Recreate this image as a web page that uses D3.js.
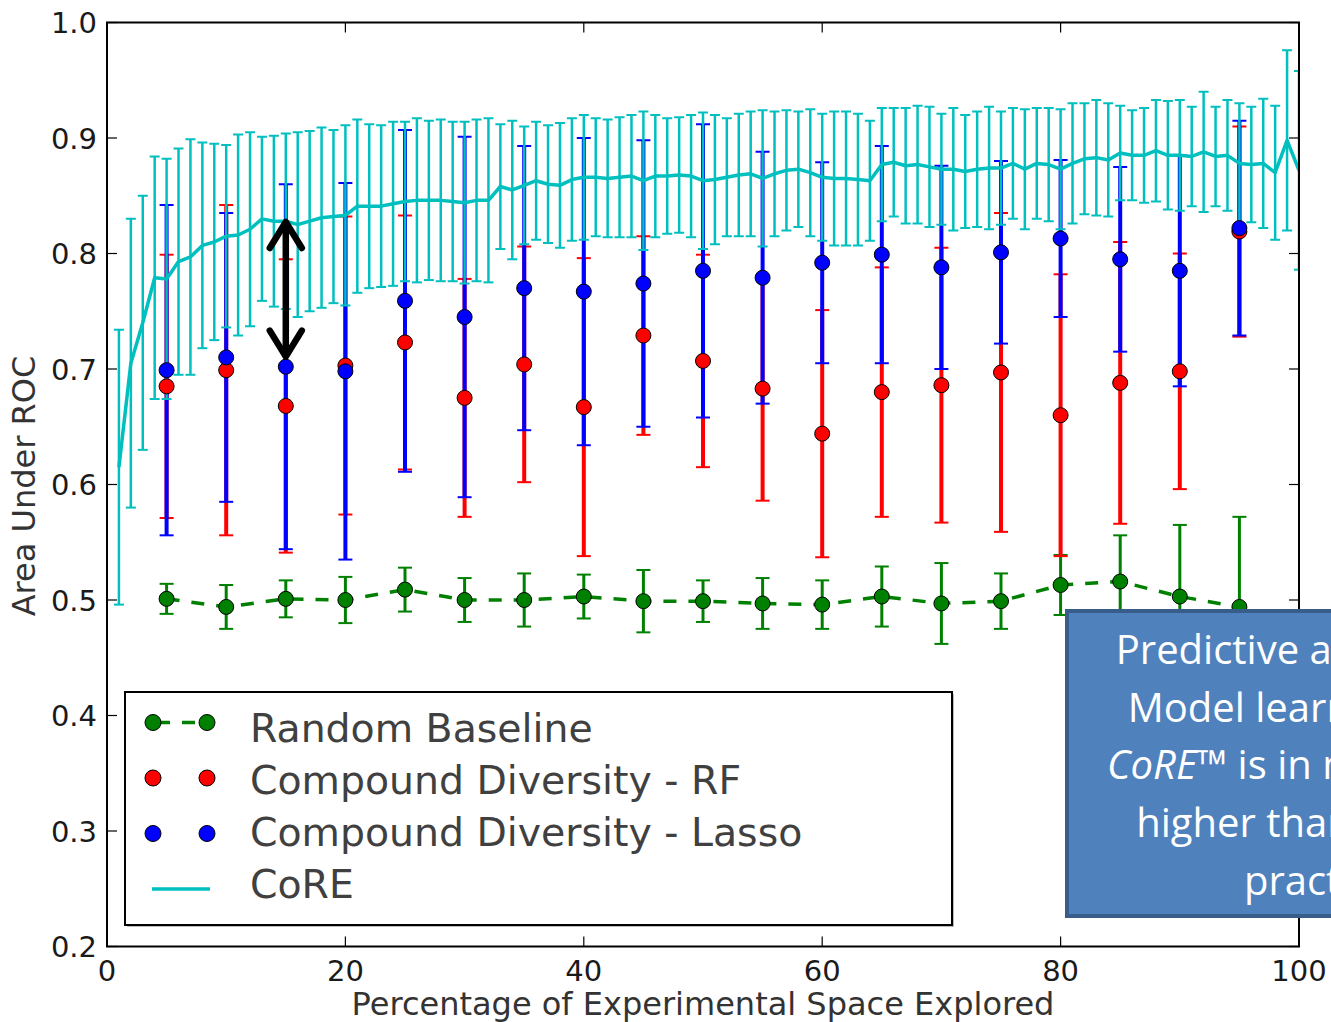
<!DOCTYPE html>
<html>
<head>
<meta charset="utf-8">
<script src="https://cdn.jsdelivr.net/npm/d3@7"></script>
<style>
  body { margin: 0; background: #ffffff; }
  svg { display: block; }
</style>
</head>
<body>
<div id="chart"></div>
<script>
// ---- data ----

// CoRE: one point per percent explored
const CORE_X = [1, 2, 3, 4, 5, 6, 7, 8, 9, 10, 11, 12, 13, 14, 15, 16, 17, 18, 19, 20,
  21, 22, 23, 24, 25, 26, 27, 28, 29, 30, 31, 32, 33, 34, 35, 36, 37, 38, 39, 40,
  41, 42, 43, 44, 45, 46, 47, 48, 49, 50, 51, 52, 53, 54, 55, 56, 57, 58, 59, 60,
  61, 62, 63, 64, 65, 66, 67, 68, 69, 70, 71, 72, 73, 74, 75, 76, 77, 78, 79, 80,
  81, 82, 83, 84, 85, 86, 87, 88, 89, 90, 91, 92, 93, 94, 95, 96, 97, 98, 99, 100];
const CORE_MEAN = [0.615, 0.705, 0.740, 0.779, 0.778, 0.793, 0.797, 0.807, 0.810, 0.815,
  0.816, 0.821, 0.830, 0.828, 0.828, 0.825, 0.828, 0.831, 0.832, 0.833,
  0.841, 0.841, 0.841, 0.843, 0.845, 0.846, 0.846, 0.846, 0.845, 0.844,
  0.846, 0.846, 0.858, 0.855, 0.859, 0.863, 0.860, 0.859, 0.864, 0.866,
  0.866, 0.865, 0.866, 0.867, 0.863, 0.867, 0.867, 0.868, 0.867, 0.863,
  0.864, 0.866, 0.868, 0.869, 0.865, 0.869, 0.872, 0.873, 0.870, 0.866,
  0.865, 0.865, 0.864, 0.863, 0.877, 0.879, 0.876, 0.877, 0.875, 0.873,
  0.873, 0.871, 0.873, 0.874, 0.874, 0.878, 0.873, 0.878, 0.877, 0.873,
  0.878, 0.882, 0.883, 0.881, 0.887, 0.885, 0.885, 0.889, 0.885, 0.885,
  0.884, 0.888, 0.884, 0.885, 0.878, 0.877, 0.878, 0.870, 0.898, 0.872];
const CORE_ERR = [0.119, 0.125, 0.110, 0.105, 0.104, 0.098, 0.102, 0.089, 0.085, 0.079,
  0.087, 0.084, 0.071, 0.074, 0.076, 0.080, 0.078, 0.078, 0.075, 0.078,
  0.075, 0.071, 0.070, 0.071, 0.069, 0.071, 0.069, 0.070, 0.069, 0.070,
  0.070, 0.071, 0.054, 0.060, 0.051, 0.051, 0.051, 0.054, 0.053, 0.054,
  0.051, 0.051, 0.052, 0.053, 0.060, 0.053, 0.050, 0.050, 0.053, 0.059,
  0.056, 0.051, 0.053, 0.054, 0.059, 0.054, 0.052, 0.050, 0.055, 0.055,
  0.058, 0.058, 0.057, 0.052, 0.049, 0.047, 0.050, 0.051, 0.052, 0.048,
  0.053, 0.049, 0.050, 0.053, 0.049, 0.048, 0.052, 0.048, 0.049, 0.052,
  0.052, 0.048, 0.050, 0.049, 0.041, 0.039, 0.041, 0.044, 0.047, 0.048,
  0.043, 0.052, 0.043, 0.048, 0.052, 0.050, 0.056, 0.058, 0.078, 0.086];

// the three other methods are sampled every 5 percent
const CD_X = [5, 10, 15, 20, 25, 30, 35, 40, 45, 50, 55, 60, 65, 70, 75, 80, 85, 90, 95];
const RANDOM_MEAN = [0.501, 0.494, 0.501, 0.500, 0.509, 0.500, 0.500, 0.503, 0.499, 0.499,
  0.497, 0.496, 0.503, 0.497, 0.499, 0.513, 0.516, 0.503, 0.494];
const RANDOM_ERR = [0.013, 0.019, 0.016, 0.020, 0.019, 0.019, 0.023, 0.019, 0.027, 0.018,
  0.022, 0.021, 0.026, 0.035, 0.024, 0.026, 0.040, 0.062, 0.078];
const RF_MEAN = [0.685, 0.699, 0.668, 0.703, 0.723, 0.675, 0.704, 0.667, 0.729, 0.707,
  0.683, 0.644, 0.680, 0.686, 0.697, 0.660, 0.688, 0.698, 0.819];
const RF_ERR = [0.114, 0.143, 0.127, 0.129, 0.110, 0.103, 0.102, 0.129, 0.086, 0.092,
  0.097, 0.107, 0.108, 0.119, 0.138, 0.122, 0.122, 0.102, 0.091];
const LASSO_MEAN = [0.699, 0.710, 0.702, 0.698, 0.759, 0.745, 0.770, 0.767, 0.774, 0.785,
  0.779, 0.792, 0.799, 0.788, 0.801, 0.813, 0.795, 0.785, 0.822];
const LASSO_ERR = [0.143, 0.125, 0.158, 0.163, 0.148, 0.156, 0.123, 0.133, 0.124, 0.127,
  0.109, 0.087, 0.094, 0.088, 0.079, 0.068, 0.080, 0.100, 0.093];

// axes
const X_TICKS = [0, 20, 40, 60, 80, 100];
const Y_TICKS = [0.2, 0.3, 0.4, 0.5, 0.6, 0.7, 0.8, 0.9, 1.0];
const X_LABEL = "Percentage of Experimental Space Explored";
const Y_LABEL = "Area Under ROC";

// legend and notes
const LEGEND_LABELS = ["Random Baseline", "Compound Diversity - RF", "Compound Diversity - Lasso", "CoRE"];
const ARROW = {x: 15, from: 0.829, to: 0.709};
const NOTE_LINES = ["Predictive accuracy of", "Model learned using", "CoRE\u2122 is in most cases", "higher than current", "practice"];

// ---- frame ----
const FRAME_WIDTH = 1331;
const FRAME_HEIGHT = 1022;
const MARGINS = {left: 107, right: 32, top: 22.5, bottom: 75.5};

const COLORS = {random: "#008000", rf: "#ff0000", lasso: "#0000ff", core: "#00bfbf"};

const FRAME = d3.select("#chart")
  .append("svg")
  .attr("width", FRAME_WIDTH)
  .attr("height", FRAME_HEIGHT);

const X_SCALE = d3.scaleLinear()
  .domain([0, 100])
  .range([MARGINS.left, FRAME_WIDTH - MARGINS.right]);

const Y_SCALE = d3.scaleLinear()
  .domain([0.2, 1.0])
  .range([FRAME_HEIGHT - MARGINS.bottom, MARGINS.top]);

FRAME.append("clipPath").attr("id", "plotclip")
  .append("rect")
  .attr("x", X_SCALE(0)).attr("y", Y_SCALE(1.0))
  .attr("width", X_SCALE(100) - X_SCALE(0))
  .attr("height", Y_SCALE(0.2) - Y_SCALE(1.0));

const PLOT = FRAME.append("g").attr("clip-path", "url(#plotclip)");

// error bars: vertical line plus two caps
function errorBars(xs, means, errs, color, width, cap) {
  const rows = xs.map((x, i) => ({x: x, m: means[i], e: errs[i]}));
  const g = PLOT.append("g").attr("stroke", color).attr("stroke-width", width);
  g.selectAll("line.bar").data(rows).enter().append("line")
    .attr("class", "bar")
    .attr("x1", d => X_SCALE(d.x)).attr("x2", d => X_SCALE(d.x))
    .attr("y1", d => Y_SCALE(d.m - d.e)).attr("y2", d => Y_SCALE(d.m + d.e));
  g.selectAll("line.lo").data(rows).enter().append("line")
    .attr("class", "lo")
    .attr("stroke-width", Math.min(width, 2))
    .attr("x1", d => X_SCALE(d.x) - cap).attr("x2", d => X_SCALE(d.x) + cap)
    .attr("y1", d => Y_SCALE(d.m - d.e)).attr("y2", d => Y_SCALE(d.m - d.e));
  g.selectAll("line.hi").data(rows).enter().append("line")
    .attr("class", "hi")
    .attr("stroke-width", Math.min(width, 2))
    .attr("x1", d => X_SCALE(d.x) - cap).attr("x2", d => X_SCALE(d.x) + cap)
    .attr("y1", d => Y_SCALE(d.m + d.e)).attr("y2", d => Y_SCALE(d.m + d.e));
}

function markers(xs, means, color, r) {
  PLOT.append("g").selectAll("circle")
    .data(xs.map((x, i) => ({x: x, m: means[i]})))
    .enter().append("circle")
    .attr("cx", d => X_SCALE(d.x))
    .attr("cy", d => Y_SCALE(d.m))
    .attr("r", r)
    .attr("fill", color)
    .attr("stroke", "#000")
    .attr("stroke-width", 1);
}

const LINE = d3.line().x(d => X_SCALE(d[0])).y(d => Y_SCALE(d[1]));

// bars first
errorBars(CD_X, RANDOM_MEAN, RANDOM_ERR, COLORS.random, 3, 7);
errorBars(CD_X, RF_MEAN, RF_ERR, COLORS.rf, 4, 7);
errorBars(CD_X, LASSO_MEAN, LASSO_ERR, COLORS.lasso, 4, 7);
errorBars(CORE_X, CORE_MEAN, CORE_ERR, COLORS.core, 2.5, 5);

// lines
PLOT.append("path")
  .datum(CD_X.map((x, i) => [x, RANDOM_MEAN[i]]))
  .attr("d", LINE)
  .attr("fill", "none")
  .attr("stroke", COLORS.random)
  .attr("stroke-width", 3.5)
  .attr("stroke-dasharray", "13,12");

PLOT.append("path")
  .datum(CORE_X.map((x, i) => [x, CORE_MEAN[i]]))
  .attr("d", LINE)
  .attr("fill", "none")
  .attr("stroke", COLORS.core)
  .attr("stroke-width", 3.5)
  .attr("stroke-linejoin", "round");

// markers
markers(CD_X, RANDOM_MEAN, COLORS.random, 7.5);
markers(CD_X, RF_MEAN, COLORS.rf, 7.5);
markers(CD_X, LASSO_MEAN, COLORS.lasso, 7.5);

// ---- axes ----
const AXES = FRAME.append("g");
AXES.append("rect")
  .attr("x", X_SCALE(0)).attr("y", Y_SCALE(1.0))
  .attr("width", X_SCALE(100) - X_SCALE(0))
  .attr("height", Y_SCALE(0.2) - Y_SCALE(1.0))
  .attr("fill", "none").attr("stroke", "#000").attr("stroke-width", 2);

const TICK_LEN = 10;
AXES.selectAll("line.xtb").data(X_TICKS).enter().append("line")
  .attr("x1", d => X_SCALE(d)).attr("x2", d => X_SCALE(d))
  .attr("y1", Y_SCALE(0.2)).attr("y2", Y_SCALE(0.2) - TICK_LEN)
  .attr("stroke", "#000").attr("stroke-width", 1.2);
AXES.selectAll("line.xtt").data(X_TICKS).enter().append("line")
  .attr("x1", d => X_SCALE(d)).attr("x2", d => X_SCALE(d))
  .attr("y1", Y_SCALE(1.0)).attr("y2", Y_SCALE(1.0) + TICK_LEN)
  .attr("stroke", "#000").attr("stroke-width", 1.2);
AXES.selectAll("line.ytl").data(Y_TICKS).enter().append("line")
  .attr("x1", X_SCALE(0)).attr("x2", X_SCALE(0) + TICK_LEN)
  .attr("y1", d => Y_SCALE(d)).attr("y2", d => Y_SCALE(d))
  .attr("stroke", "#000").attr("stroke-width", 1.2);
AXES.selectAll("line.ytr").data(Y_TICKS).enter().append("line")
  .attr("x1", X_SCALE(100)).attr("x2", X_SCALE(100) - TICK_LEN)
  .attr("y1", d => Y_SCALE(d)).attr("y2", d => Y_SCALE(d))
  .attr("stroke", "#000").attr("stroke-width", 1.2);

AXES.selectAll("text.xt").data(X_TICKS).enter().append("text")
  .attr("x", d => X_SCALE(d))
  .attr("y", Y_SCALE(0.2) + 34)
  .attr("text-anchor", "middle")
  .attr("font-family", "DejaVu Sans")
  .attr("font-size", "29px")
  .attr("fill", "#1a1a1a")
  .text(d => d);

AXES.selectAll("text.yt").data(Y_TICKS).enter().append("text")
  .attr("x", X_SCALE(0) - 10)
  .attr("y", d => Y_SCALE(d) + 10.5)
  .attr("text-anchor", "end")
  .attr("font-family", "DejaVu Sans")
  .attr("font-size", "29px")
  .attr("fill", "#1a1a1a")
  .text(d => d.toFixed(1));

AXES.append("text")
  .attr("x", (X_SCALE(0) + X_SCALE(100)) / 2)
  .attr("y", 1015)
  .attr("text-anchor", "middle")
  .attr("font-family", "DejaVu Sans")
  .attr("font-size", "32px")
  .attr("fill", "#333")
  .text(X_LABEL);

AXES.append("text")
  .attr("transform", "translate(35," + 486 + ") rotate(-90)")
  .attr("text-anchor", "middle")
  .attr("font-family", "DejaVu Sans")
  .attr("font-size", "32px")
  .attr("fill", "#333")
  .text(Y_LABEL);

// ---- arrow between CoRE and Lasso at 15% ----
const AX = X_SCALE(ARROW.x), AY0 = Y_SCALE(ARROW.from), AY1 = Y_SCALE(ARROW.to);
const ARROW_G = FRAME.append("g")
  .attr("stroke", "#000").attr("stroke-width", 6.5)
  .attr("stroke-linecap", "round").attr("stroke-linejoin", "round").attr("fill", "none");
ARROW_G.append("line").attr("x1", AX).attr("x2", AX).attr("y1", AY0 + 3).attr("y2", AY1 - 3);
ARROW_G.append("polyline").attr("points", [[AX - 16, AY0 + 28], [AX, AY0 + 2], [AX + 16, AY0 + 28]].join(" "));
ARROW_G.append("polyline").attr("points", [[AX - 16, AY1 - 28], [AX, AY1 - 2], [AX + 16, AY1 - 28]].join(" "));

// ---- legend ----
const LEGEND = FRAME.append("g");
LEGEND.append("rect")
  .attr("x", 127).attr("y", 694).attr("width", 827).attr("height", 233)
  .attr("fill", "#bbb");
LEGEND.append("rect")
  .attr("x", 125).attr("y", 692).attr("width", 827).attr("height", 233)
  .attr("fill", "#fff").attr("stroke", "#000").attr("stroke-width", 2);

const LEG_COLORS = [COLORS.random, COLORS.rf, COLORS.lasso, COLORS.core];
const LEG_MARK_Y = i => 722.5 + i * 55.5;
const LEG_TEXT_Y = i => 741.5 + i * 52.3;

LEGEND.selectAll("text").data(LEGEND_LABELS).enter().append("text")
  .attr("x", 250)
  .attr("y", (d, i) => LEG_TEXT_Y(i))
  .attr("font-family", "DejaVu Sans")
  .attr("font-size", "39.4px")
  .attr("fill", "#404040")
  .text(d => d);

// random baseline handle: dashed line with two markers
LEGEND.append("line")
  .attr("x1", 153).attr("x2", 207).attr("y1", LEG_MARK_Y(0)).attr("y2", LEG_MARK_Y(0))
  .attr("stroke", COLORS.random).attr("stroke-width", 3.5).attr("stroke-dasharray", "13,12")
  .attr("stroke-dashoffset", -4);
[0, 1, 2].forEach(i => {
  [153, 207].forEach(cx => {
    LEGEND.append("circle")
      .attr("cx", cx).attr("cy", LEG_MARK_Y(i)).attr("r", 8)
      .attr("fill", LEG_COLORS[i]).attr("stroke", "#000").attr("stroke-width", 1);
  });
});
LEGEND.append("line")
  .attr("x1", 152).attr("x2", 210).attr("y1", LEG_MARK_Y(3)).attr("y2", LEG_MARK_Y(3))
  .attr("stroke", COLORS.core).attr("stroke-width", 3.5);

// ---- call-out box (runs off the right edge, as in the original) ----
const NOTE = FRAME.append("g");
NOTE.append("rect")
  .attr("x", 1067).attr("y", 611).attr("width", 520).attr("height", 305)
  .attr("fill", "#4f81bd").attr("stroke", "#385d8a").attr("stroke-width", 4);

NOTE.selectAll("text").data(NOTE_LINES).enter().append("text")
  .attr("x", 1318)
  .attr("y", (d, i) => 664 + i * 57.7)
  .attr("text-anchor", "middle")
  .attr("font-family", "Open Sans")
  .attr("font-size", "40px")
  .attr("fill", "#ffffff")
  .each(function(d) {
    const t = d3.select(this);
    if (d.startsWith("CoRE")) {
      t.append("tspan").attr("font-style", "italic").text("CoRE");
      t.append("tspan").text(d.slice(4));
    } else {
      t.text(d);
    }
  });
</script>
</body>
</html>
